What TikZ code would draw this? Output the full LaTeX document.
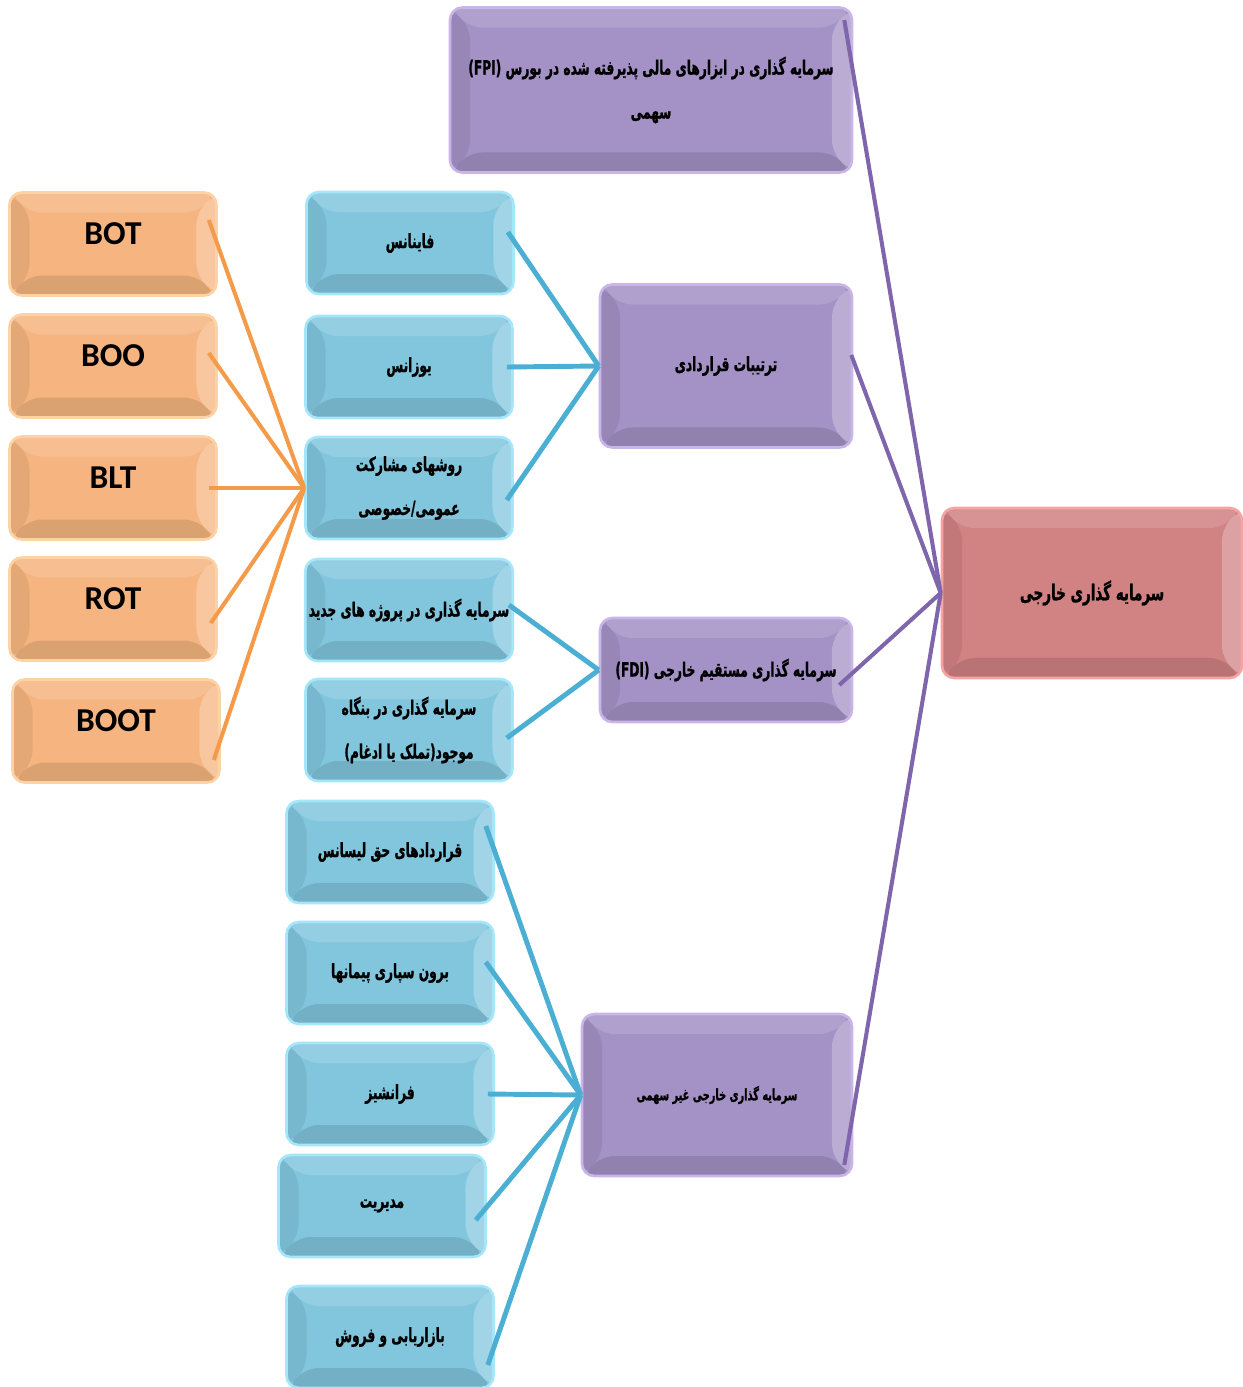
\documentclass[tikz,border=0pt]{standalone}
\usepackage{fontspec}
\setmainfont{Carlito}
\newfontfamily\farsi[Script=Arabic,FakeStretch=0.62,BoldFeatures={FakeBold=1}]{DejaVu Sans}
\TeXXeTstate=1
\usetikzlibrary{calc}

\definecolor{orangeFill}{HTML}{F6B580}
\definecolor{orangeEdge}{HTML}{FDD3A6}
\definecolor{orangeLine}{HTML}{F39B4A}
\definecolor{blueFill}{HTML}{82C6DE}
\definecolor{blueEdge}{HTML}{A4E6FA}
\definecolor{blueLine}{HTML}{4BAED3}
\definecolor{purpleFill}{HTML}{A491C5}
\definecolor{purpleEdge}{HTML}{C9B5E8}
\definecolor{purpleLine}{HTML}{7F65AB}
\definecolor{redFill}{HTML}{D18283}
\definecolor{redEdge}{HTML}{F5A3A3}

\newcommand{\fa}[1]{\beginR #1\endR}

\begin{document}
\begin{tikzpicture}
[x=0.02cm,y=-0.02cm,
 boxDecorate/.style={shape=rectangle,rounded corners=7pt,draw=#1Edge,line width=1.5pt,
   fill=#1Fill,align=center,inner sep=2pt,
   path picture={
     \coordinate (pNW) at (path picture bounding box.north west);
     \coordinate (pNE) at (path picture bounding box.north east);
     \coordinate (pSW) at (path picture bounding box.south west);
     \coordinate (pSE) at (path picture bounding box.south east);
     \fill[white,opacity=.14] (pNW) -- (pNE) -- ([xshift=-.4cm,yshift=-.4cm]pNE) -- ([xshift=.4cm,yshift=-.4cm]pNW) -- cycle;
     \fill[white,opacity=.25] (pNE) -- (pSE) -- ([xshift=-.4cm,yshift=.4cm]pSE) -- ([xshift=-.4cm,yshift=-.4cm]pNE) -- cycle;
     \fill[black,opacity=.07] (pNW) -- (pSW) -- ([xshift=.4cm,yshift=.4cm]pSW) -- ([xshift=.4cm,yshift=-.4cm]pNW) -- cycle;
     \fill[black,opacity=.11] (pSW) -- (pSE) -- ([xshift=-.4cm,yshift=.4cm]pSE) -- ([xshift=.4cm,yshift=.4cm]pSW) -- cycle;
   }},
 abbrDecorate/.style={boxDecorate=orange,minimum width=4.14cm,minimum height=2.06cm,
   font=\fontsize{19}{22}\selectfont\bfseries,text depth=.4cm},
 itemDecorate/.style={boxDecorate=blue,minimum width=4.14cm,minimum height=2.04cm,
   font=\farsi\bfseries\fontsize{11.2}{25}\selectfont},
 typeDecorate/.style={boxDecorate=purple,minimum width=5.04cm,
   font=\farsi\bfseries\fontsize{11.2}{25}\selectfont},
 lineDecorate/.style={-,line width=#1}]
\useasboundingbox (0,0) rectangle (1243,1387);

%% root
\node (root) at (1092,593) [boxDecorate=red,minimum width=6.0cm,minimum height=3.4cm,
  font=\farsi\bfseries\fontsize{12.4}{25}\selectfont] {\fa{سرمایه گذاری خارجی}};

%% types of foreign investment
\node (fpi) at (651,90) [typeDecorate,minimum width=8.04cm,minimum height=3.3cm]
  {\fa{سرمایه گذاری در ابزارهای مالی پذیرفته شده در بورس (FPI)}\\ \fa{سهمی}};
\node (contract) at (726,366) [typeDecorate,minimum height=3.26cm] {\fa{ترتیبات قراردادی}};
\node (fdi) at (726,670) [typeDecorate,minimum height=2.08cm] {\fa{سرمایه گذاری مستقیم خارجی (FDI)}};
\node (nonequity) at (717,1095) [typeDecorate,minimum width=5.4cm,minimum height=3.24cm,
  font=\farsi\bfseries\fontsize{9}{20}\selectfont] {\fa{سرمایه گذاری خارجی غیر سهمی}};

%% contractual arrangements
\node (finance) at (410,243) [itemDecorate] {\fa{فاینانس}};
\node (usance) at (409,367) [itemDecorate] {\fa{یوزانس}};
\node (ppp) at (409,488) [itemDecorate] {\fa{روشهای مشارکت}\\ \fa{عمومی/خصوصی}};

%% direct investment
\node (greenfield) at (409,610) [itemDecorate] {\fa{سرمایه گذاری در پروژه های جدید}};
\node (brownfield) at (409,730) [itemDecorate] {\fa{سرمایه گذاری در بنگاه}\\ \fa{موجود(تملک یا ادغام)}};

%% non-equity investment
\node (license) at (390,852) [itemDecorate] {\fa{قراردادهای حق لیسانس}};
\node (outsource) at (390,973) [itemDecorate] {\fa{برون سپاری پیمانها}};
\node (franchise) at (390,1094) [itemDecorate] {\fa{فرانشیز}};
\node (manage) at (382,1206) [itemDecorate] {\fa{مدیریت}};
\node (market) at (390,1337) [itemDecorate] {\fa{بازاریابی و فروش}};

%% ppp models
\foreach \nodename/\x/\y in {BOT/113/244, BOO/113/366, BLT/113/488, ROT/113/609, BOOT/116/731} {
  \node (\nodename) at (\x,\y) [abbrDecorate] {\nodename};
}

%% edges or lines
\path
\foreach \startnode/\dx/\dy in {BOT/-9/-24, BOO/-9/-13, BLT/-9/0, ROT/-7/14, BOOT/-7/29} {
  ($(\startnode.east)+(\dx,\dy)$) edge[lineDecorate=2.3pt,orangeLine] (ppp.west)
};
\path
\foreach \startnode/\dx/\dy in {finance/-7/-11, usance/-7/0, ppp/-7/12} {
  ($(\startnode.east)+(\dx,\dy)$) edge[lineDecorate=2.8pt,blueLine] (contract.west)
}
\foreach \startnode/\dx/\dy in {greenfield/-5/-5, brownfield/-7/8} {
  ($(\startnode.east)+(\dx,\dy)$) edge[lineDecorate=2.8pt,blueLine] (fdi.west)
}
\foreach \startnode/\dx/\dy in {license/-9/-26, outsource/-9/-11, franchise/-7/0, manage/-11/14, market/-7/28} {
  ($(\startnode.east)+(\dx,\dy)$) edge[lineDecorate=2.8pt,blueLine] (nonequity.west)
};
\path
\foreach \startnode/\dx/\dy in {fpi/-9/-70, contract/-2/-11, fdi/-14/15, nonequity/-9/70} {
  ($(\startnode.east)+(\dx,\dy)$) edge[lineDecorate=2.3pt,purpleLine] (root.west)
};
\end{tikzpicture}
\end{document}
